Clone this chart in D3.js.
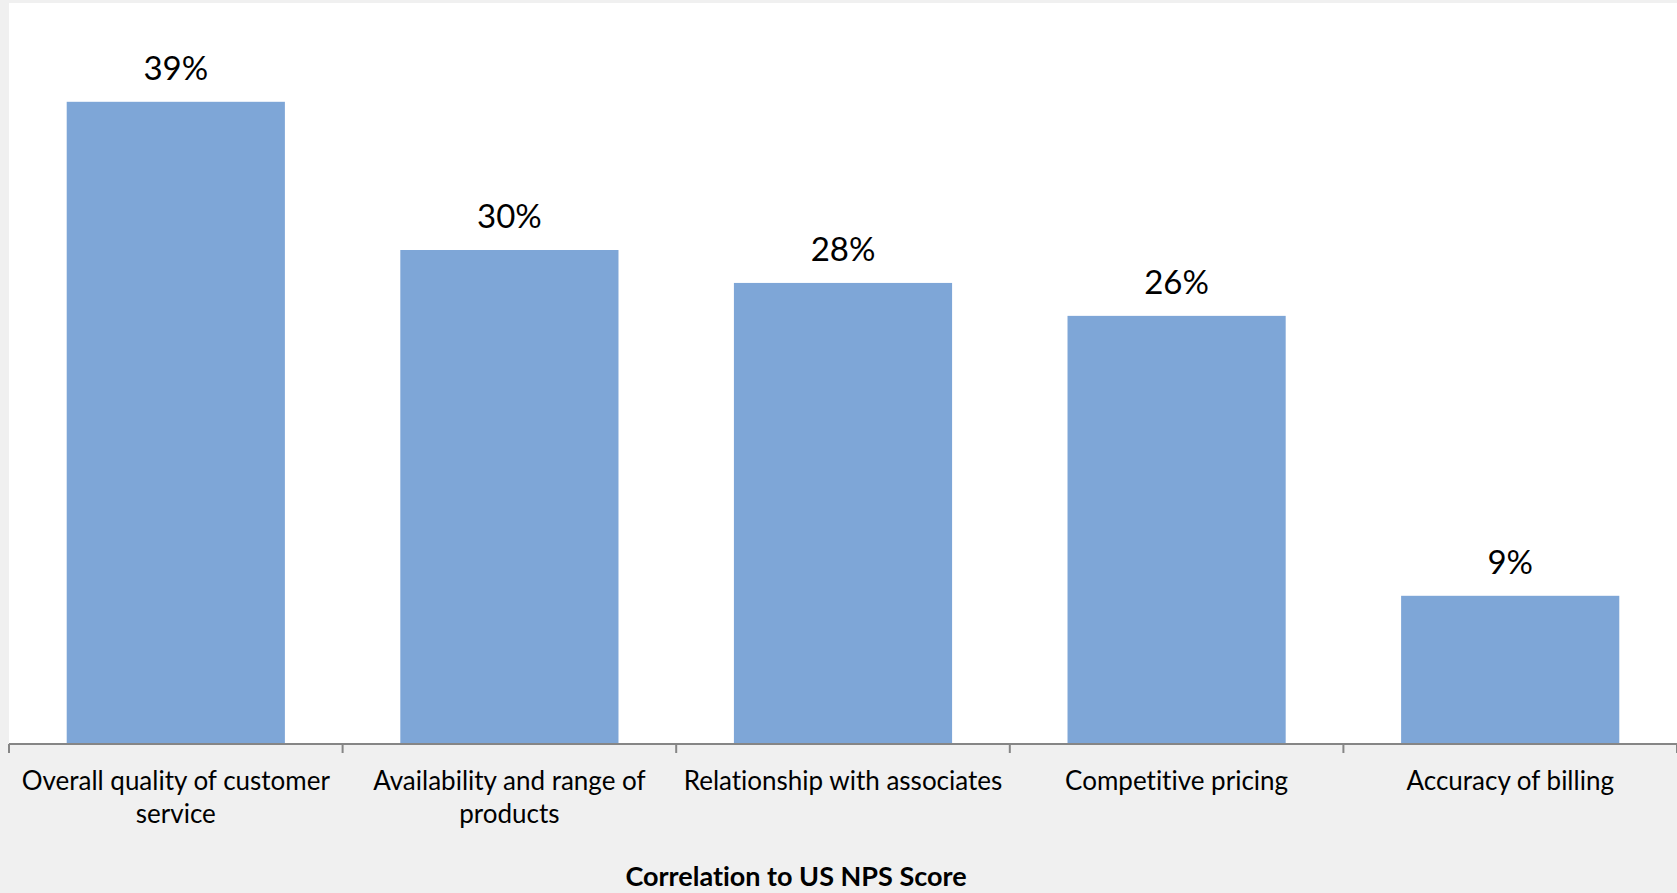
<!DOCTYPE html>
<html>
<head>
<meta charset="utf-8">
<script src="https://cdn.jsdelivr.net/npm/d3@7/dist/d3.min.js"></script>
<style>
  html, body { margin: 0; padding: 0; background: #f0f0f0; }
  svg { display: block; }
  text { font-family: Lato, "Open Sans", sans-serif; fill: #000; font-variant-ligatures: none; }
</style>
</head>
<body>
<svg id="chart" width="1677" height="893"></svg>
<script>
// Drivers of NPS and their correlation
const categories = [
  "Overall quality of customer service",
  "Availability and range of products",
  "Relationship with associates",
  "Competitive pricing",
  "Accuracy of billing"
];
const values = [0.39, 0.30, 0.28, 0.26, 0.09];
const axisTitle = "Correlation to US NPS Score";

const W = 1677, H = 893;
const plot = { left: 9, top: 3, right: 1677, bottom: 744 };

const svg = d3.select("#chart");

// chart background and plot area
svg.append("rect").attr("width", W).attr("height", H).attr("fill", "#f0f0f0");
svg.append("rect")
  .attr("x", plot.left).attr("y", plot.top)
  .attr("width", plot.right - plot.left).attr("height", plot.bottom - plot.top)
  .attr("fill", "#ffffff");

const x = d3.scaleBand()
  .domain(categories)
  .range([plot.left, plot.right])
  .paddingInner(0.346)
  .paddingOuter(0.173);

const y = d3.scaleLinear()
  .domain([0, 0.45])
  .range([plot.bottom, plot.top]);

// bars
svg.append("g").selectAll("rect")
  .data(categories)
  .join("rect")
  .attr("x", d => x(d))
  .attr("width", x.bandwidth())
  .attr("y", (d, i) => y(values[i]))
  .attr("height", (d, i) => y(0) - y(values[i]))
  .attr("fill", "#7ea6d7");

// value labels
const fmt = d3.format(".0%");
svg.append("g").selectAll("text")
  .data(categories)
  .join("text")
  .attr("x", d => x(d) + x.bandwidth() / 2)
  .attr("y", (d, i) => y(values[i]) - 22)
  .attr("text-anchor", "middle")
  .attr("font-size", 33)
  .text((d, i) => fmt(values[i]));

// category axis: ticks sit on band boundaries
const step = x.step();
const boundaries = d3.range(categories.length + 1).map(i => plot.left + i * (plot.right - plot.left) / categories.length);
const axisG = svg.append("g");
axisG.append("line")
  .attr("x1", plot.left).attr("x2", plot.right)
  .attr("y1", plot.bottom).attr("y2", plot.bottom)
  .attr("stroke", "#868686").attr("stroke-width", 2);
axisG.selectAll("line.tick")
  .data(boundaries)
  .join("line")
  .attr("class", "tick")
  .attr("x1", d => d).attr("x2", d => d)
  .attr("y1", plot.bottom).attr("y2", plot.bottom + 9)
  .attr("stroke", "#868686").attr("stroke-width", 2);

// category labels, wrapped to the slot width
const labelG = axisG.selectAll("text.cat")
  .data(categories)
  .join("text")
  .attr("class", "cat")
  .attr("x", d => x(d) + x.bandwidth() / 2)
  .attr("y", 790)
  .attr("text-anchor", "middle")
  .attr("font-size", 26);

labelG.each(function(d) {
  const t = d3.select(this);
  const cx = +t.attr("x");
  const words = d.split(" ");
  const maxW = step - 4;
  let line = [];
  let tspan = t.append("tspan").attr("x", cx).attr("dy", 0);
  for (const w of words) {
    line.push(w);
    tspan.text(line.join(" "));
    if (tspan.node().getComputedTextLength() > maxW && line.length > 1) {
      line.pop();
      tspan.text(line.join(" "));
      line = [w];
      tspan = t.append("tspan").attr("x", cx).attr("dy", 33).text(w);
    }
  }
});

// axis title
svg.append("text")
  .attr("x", 796)
  .attr("y", 886)
  .attr("text-anchor", "middle")
  .attr("font-size", 27)
  .attr("font-weight", "bold")
  .text(axisTitle);
</script>
</body>
</html>
